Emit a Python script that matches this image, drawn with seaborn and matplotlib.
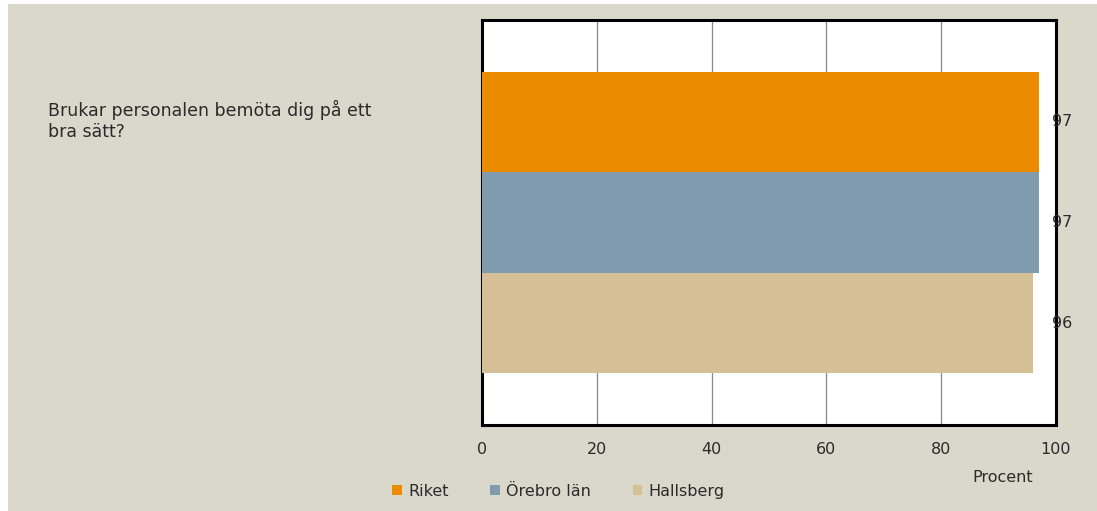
import matplotlib
matplotlib.use("Agg")
import matplotlib.pyplot as plt
import matplotlib.patches as mpatches
import seaborn as sns
import pandas as pd

# ---- data ----
categories = ["Brukar personalen bemöta dig på ett\nbra sätt?"]
series = ["Riket", "Örebro län", "Hallsberg"]
values = [97, 97, 96]
colors = ["#EA8B00", "#7F9BAD", "#D4BF96"]
xticks = [0, 20, 40, 60, 80, 100]
xlabel = "Procent"

df = pd.DataFrame({
    "Fråga": [categories[0]] * len(series),
    "Område": series,
    "Procent": values,
})

sns.set_theme(style="white")
plt.rcParams["font.family"] = ["DejaVu Sans"]

FS = 11.5
TXT = "#2a2a2a"
BG = "#DAD8CB"
fig = plt.figure(figsize=(10.97, 5.11), dpi=100, facecolor="white")
fig.patches.append(mpatches.Rectangle((8 / 1097, 0), 1 - 8 / 1097, 1 - 4 / 511,
                                      transform=fig.transFigure, facecolor=BG,
                                      edgecolor="none", zorder=-10))

ax = fig.add_axes([482 / 1097, 1 - 425 / 511, (1056 - 482) / 1097, (425 - 20) / 511])
sns.barplot(data=df, y="Fråga", x="Procent", hue="Område", hue_order=series,
            palette=colors, orient="h", width=0.745, ax=ax, legend=False,
            saturation=1, edgecolor="none", linewidth=0, zorder=3)

ax.set_facecolor("white")
ax.set_xlim(0, 100)
ax.set_ylim(0.5, -0.5)
ax.set_xticks(xticks)
ax.set_xticklabels([str(t) for t in xticks], fontsize=FS, color=TXT)
ax.tick_params(axis="x", length=0, pad=12)
ax.set_yticks([])
ax.set_ylabel("")
ax.set_xlabel("")
ax.grid(axis="x", color="#888888", linewidth=0.9, zorder=0)
ax.set_axisbelow(True)
for sp in ax.spines.values():
    sp.set_visible(True)
    sp.set_color("black")
    sp.set_linewidth(2.2)

# value labels
for cont in ax.containers:
    for bar in cont:
        w = bar.get_width()
        yc = bar.get_y() + bar.get_height() / 2
        ax.text(1.01, yc, f"{w:.0f}", transform=ax.get_yaxis_transform(),
                ha="center", va="center", fontsize=FS, color=TXT,
                zorder=5, clip_on=False)

# category label
fig.text(48 / 1097, 1 - 100 / 511, categories[0], ha="left", va="top",
         fontsize=12.5, color=TXT, linespacing=1.2)

# axis title
fig.text(1003 / 1097, 1 - 478 / 511, xlabel, ha="center", va="center",
         fontsize=FS, color=TXT)

# legend
handles = [mpatches.Patch(facecolor=c, edgecolor="none") for c in colors]
leg = fig.legend(handles, series, loc="center left",
                 bbox_to_anchor=(378 / 1097, 1 - 491 / 511), ncol=3,
                 frameon=False, fontsize=FS, handlelength=0.6,
                 handleheight=0.6, handletextpad=0.4, columnspacing=2.6)
for t in leg.get_texts():
    t.set_color(TXT)

fig.savefig("out.png", dpi=100, facecolor=fig.get_facecolor())
